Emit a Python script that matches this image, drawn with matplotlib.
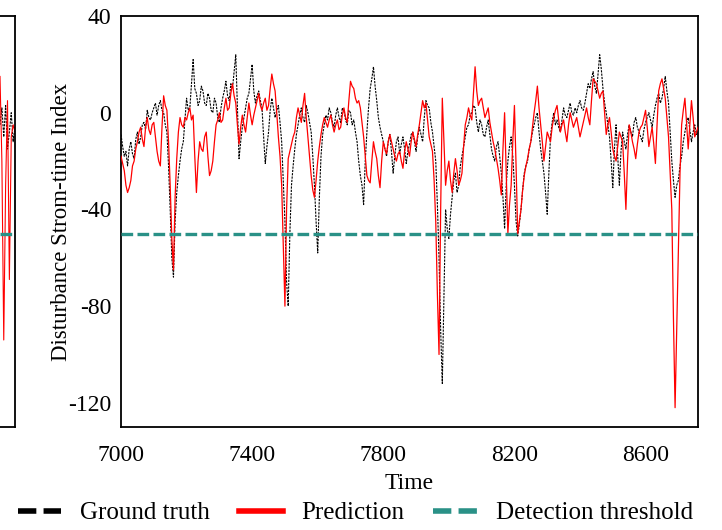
import matplotlib
matplotlib.use("Agg")
import matplotlib.pyplot as plt
from matplotlib.lines import Line2D

plt.rcParams['font.family'] = ['Liberation Serif', 'DejaVu Serif']
plt.rcParams['axes.unicode_minus'] = False

# hourly index, read every 5 steps
time = list(range(7000, 8765, 5))

ground_truth = [
    -9, -14, -18, -16, -22, -15, -12, -17, -19, -11, -8, -13, -10, -5, -4, -7, 1, -2, -3, 0,
    2, 4, -1, 3, 5, 1, 0, -5, -8, -22, -40, -60, -68, -45, -33, -26, -20, -15, -12, -3,
    6, 1, 2, 12, 22, 10, 8, 3, 5, 11, 9, 4, 3, 8, 6, 1, 0, 6, 4, -2,
    -4, 2, 6, 9, 13, 7, 5, 12, 10, 17, 24, 2, -19, -12, -6, -2, 2, 6, 8, 14,
    20, 9, 4, 7, 9, 5, 2, -10, -21, -14, -8, 1, 6, 2, -2, 1, 3, -4, -12, -28,
    -45, -70, -80, -50, -30, -22, -15, -9, -5, -1, 2, -2, -4, 3, 0, -4, -8, -18, -30, -45,
    -58, -35, -18, -9, -5, -1, -3, 2, 0, -4, -6, -1, 2, -2, -4, 2, 1, -3, -5, 1,
    0, -5, -3, -8, -12, -20, -26, -30, -38, -20, -8, 2, 10, 14, 19, 11, 5, -2, -6, -9,
    -12, -15, -18, -12, -9, -16, -25, -18, -12, -10, -17, -13, -10, -15, -21, -16, -13, -9, -8, -12,
    -16, -10, -6, -9, -12, -2, 5, 3, 2, -4, -8, -14, -20, -38, -60, -90, -112, -75, -40, -48,
    -52, -42, -35, -28, -25, -33, -30, -22, -18, -14, -10, -6, -5, -1, 0, 3, 2, -4, -8, -3,
    -5, -9, -10, -6, -3, -9, -15, -18, -20, -14, -12, -18, -25, -35, -48, -30, -20, -14, -10, -18,
    -30, -45, -51, -46, -40, -32, -25, -22, -20, -15, -12, -8, -5, -2, 0, -8, -15, -20, -25, -33,
    -42, -25, -10, -4, 0, -5, -3, -6, -8, -3, 2, -1, -2, 1, 4, 0, -1, 2, 0, 3,
    5, 2, 1, 4, 8, 12, 10, 14, 17, 11, 8, 16, 24, 18, 10, 4, 0, -5, -10, -20,
    -31, -15, -5, -18, -30, -16, -8, -12, -15, -9, -5, -8, -10, -4, -2, -6, -8, -10, -12, -7,
    -4, -2, 0, -3, -6, -1, 3, 6, 8, 4, 6, 10, 15, 9, 4, -8, -20, -28, -35, -30,
    -28, -22, -18, -12, -8, -4, -2, -7, -12, -8, -5, -9, -8,
]

prediction = [
    -18, -21, -24, -30, -33, -31, -28, -22, -20, -15, -12, -8, -6, -11, -14, -6, -2, -7, -9, -5,
    -4, -10, -16, -20, -22, -6, 7, 3, 1, -12, -30, -52, -65, -35, -19, -8, -2, -5, -6, -2,
    -3, 0, 2, -3, -1, -18, -33, -20, -12, -15, -16, -10, -8, -18, -26, -24, -20, -12, -5, -3,
    0, -4, -3, 2, 6, 1, 2, 8, 12, 7, 4, -5, -13, -6, -1, -5, -8, -2, 4, -1,
    -5, -1, 2, 5, 8, 3, 1, 4, 6, 1, 3, 10, 16, 12, 9, 0, -10, -18, -30, -55,
    -80, -40, -19, -16, -13, -10, -8, -2, 2, -1, -4, 3, 8, -2, -10, -18, -26, -32, -35, -28,
    -20, -14, -9, -5, -2, -4, -6, -3, -1, -5, -8, -5, -3, -7, -6, -1, 2, -2, -4, 5,
    13, 11, 10, 6, 4, 5, 2, -4, -10, -18, -26, -28, -29, -20, -12, -16, -19, -26, -31, -20,
    -12, -15, -17, -12, -9, -12, -15, -18, -20, -17, -16, -20, -23, -16, -12, -15, -18, -12, -8, -11,
    -14, -9, -5, 0, 5, 2, 4, -3, -10, -13, -16, -28, -45, -75, -100, -40, 6, -12, -30, -24,
    -20, -28, -33, -25, -19, -24, -30, -28, -25, -14, -5, -2, 2, -1, -3, 8, 19, 9, 3, 5,
    6, 2, -2, 0, 2, -4, -8, -12, -15, -19, -23, -28, -34, -15, 0, -25, -50, -38, -30, -12,
    3, -22, -50, -45, -40, -32, -26, -22, -19, -15, -12, -6, 0, 5, 11, 2, -5, -12, -20, -14,
    -8, -10, -12, -6, -2, 1, 3, -3, -8, -5, -3, -8, -12, -5, 0, -3, -6, -4, -2, -6,
    -10, -7, -4, -1, 2, -2, -5, 5, 14, 13, 12, 9, 6, 8, 9, 0, -9, -5, -2, -8,
    -15, -18, -20, -14, -8, -10, -12, -25, -40, -20, -5, -8, -12, -15, -19, -13, -8, -6, -5, -2,
    1, -6, -14, -10, -6, -13, -21, -5, 9, 12, 14, 10, 6, -2, -10, -25, -40, -85, -122, -90,
    -60, -25, -5, 1, 6, -4, -15, -5, 5, -2, -10, -8, -6,
]

threshold = -50

# tail of the neighbouring panel, cut by the figure edge
left_x = list(range(9))
left_truth = [-5, 2, -10, 3, -15, -8, 0, -12, -6]
left_pred = [15, -20, -94, -30, 5, -69, -10, -5, -8]

yticks = [-120, -80, -40, 0, 40]
xticks = [7000, 7400, 7800, 8200, 8600]

teal = '#2a9187'

fig = plt.figure(figsize=(7.22, 5.30), dpi=100)

ax0 = fig.add_axes([0.0, 0.1943, 15 / 722, 0.7755])
ax0.plot(left_x, left_truth, color='black', lw=0.8, ls=(0, (2, 1)))
ax0.plot(left_x, left_pred, color='red', lw=0.8)
ax0.axhline(threshold, color=teal, lw=2.4, ls=(0, (3.5, 1.3)))
ax0.set_xlim(0, 8)
ax0.set_ylim(-130, 40)
ax0.set_xticks([])
ax0.set_yticks([])
ax0.spines['left'].set_visible(False)
for s in ['top', 'right', 'bottom']:
    ax0.spines[s].set_linewidth(1.3)

ax = fig.add_axes([0.1676, 0.1943, 0.7992, 0.7755])
ax.plot(time, ground_truth, color='black', lw=0.8, ls=(0, (2, 1)), zorder=2)
ax.plot(time, prediction, color='red', lw=0.9, zorder=3)
ax.axhline(threshold, color=teal, lw=2.4, ls=(0, (3.5, 1.3)), zorder=4)

ax.set_xlim(7000, 8760)
ax.set_ylim(-130, 40)
ax.set_xticks(xticks)
ax.set_yticks(yticks)
ax.tick_params(length=0, labelsize=17)
ax.tick_params(axis='x', pad=13)
ax.tick_params(axis='y', pad=7)
for s in ax.spines.values():
    s.set_linewidth(1.3)

ax.set_xlabel('Time', fontsize=17, labelpad=5)
ax.set_ylabel('Disturbance Strom-time Index', fontsize=16.5, labelpad=-3)

handles = [
    Line2D([], [], color='black', lw=4, ls=(0, (3.3, 1.3))),
    Line2D([], [], color='red', lw=4),
    Line2D([], [], color=teal, lw=4, ls=(0, (3.3, 1.3))),
]
labels = ['Ground truth', 'Prediction', 'Detection threshold']
fig.legend(handles, labels, loc='center', bbox_to_anchor=(0.492, 0.032), ncol=3,
           frameon=False, fontsize=18, handlelength=1.75, handletextpad=0.75,
           columnspacing=1.15, borderaxespad=0)

fig.savefig('out.png', dpi=100)
